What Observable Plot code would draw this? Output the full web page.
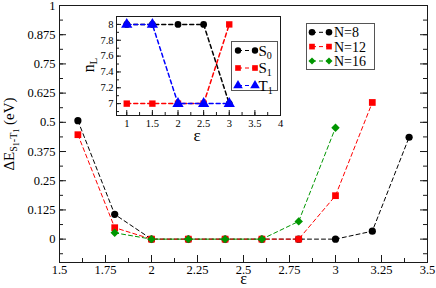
<!DOCTYPE html>
<html><head><meta charset="utf-8">
<script src="https://cdn.jsdelivr.net/npm/d3@7"></script>
<script src="https://cdn.jsdelivr.net/npm/@observablehq/plot@0.6"></script>
<style>
body{margin:0;background:#fff}
#wrap{position:relative;width:436px;height:288px;overflow:hidden}
#wrap svg{position:absolute;left:0;top:0}
</style>
</head><body><div id="wrap"></div>
<script>
// ---- main data ----
const eps8  = [1.6, 1.8, 2.0, 2.2, 2.4, 2.6, 2.8, 3.0, 3.2, 3.4];
const dE8   = [0.507, 0.106, 0, 0, 0, 0, 0, 0, 0.034, 0.436];
const eps12 = [1.6, 1.8, 2.0, 2.2, 2.4, 2.6, 2.8, 3.0, 3.2];
const dE12  = [0.447, 0.049, 0, 0, 0, 0, 0, 0.186, 0.585];
const eps16 = [1.8, 2.0, 2.2, 2.4, 2.6, 2.8, 3.0];
const dE16  = [0.027, 0, 0, 0, 0, 0.076, 0.477];
const seriesNames = ["N=8", "N=12", "N=16"];
// ---- inset data ----
const insetEps = [1, 1.5, 2, 2.5, 3];
const nS0 = [8, 8, 8, 8, 7];
const nS1 = [7, 7, 7, 7, 8];
const nT1 = [8, 8, 7, 7, 7];
const insetNames = ["S", "S", "T"];
const insetSubs = ["0", "1", "1"];
// ---- ticks ----
const xTicks = [1.5, 1.75, 2, 2.25, 2.5, 2.75, 3, 3.25, 3.5];
const yTicks = [0, 0.125, 0.25, 0.375, 0.5, 0.625, 0.75, 0.875, 1];
const insetXTicks = [1, 1.5, 2, 2.5, 3, 3.5, 4];
const insetYTicks = [7, 7.2, 7.4, 7.6, 7.8, 8];

const W = 436, H = 288;
const FONT = "'Liberation Serif', 'Times New Roman', 'DejaVu Serif', serif";
const INK = "#1a1a1a";
const GREEN = "#009600";
const fmt = d => String(d);
const mk = (xs, ys) => xs.map((x, i) => ({x, y: ys[i]}));
const d8 = mk(eps8, dE8), d12 = mk(eps12, dE12), d16 = mk(eps16, dE16);
const xMinor = d3.range(1.5, 3.5001, 0.125);
const yMinor = d3.range(-0.0625, 1.0001, 0.0625);

// main frame: x 59..427, y 5..262
const mL = 59, mR = 9, mT = 5, mB = 26;
const ih = H - mT - mB, iw = W - mL - mR;
const dash = "4,3";

const main = Plot.plot({
  width: W, height: H,
  marginLeft: mL, marginRight: mR, marginTop: mT, marginBottom: mB,
  style: {fontFamily: FONT, fontSize: "12.5px", background: "white", color: "black"},
  x: {domain: [1.5, 3.5]},
  y: {domain: [-0.1, 1]},
  marks: [
    Plot.tickX(xMinor, {x: d => d, insetTop: ih - 4, stroke: INK}),
    Plot.tickX(xTicks, {x: d => d, insetTop: ih - 7, stroke: INK}),
    Plot.tickY(yMinor, {y: d => d, insetRight: iw - 4, stroke: INK}),
    Plot.tickY(yTicks, {y: d => d, insetRight: iw - 7, stroke: INK}),
    Plot.tickY(yMinor, {y: d => d, insetLeft: iw - 4, stroke: INK}),
    Plot.tickY(yTicks, {y: d => d, insetLeft: iw - 7, stroke: INK}),
    Plot.axisX(xTicks, {tickSize: 0, tickPadding: 3, tickFormat: fmt, label: null}),
    Plot.axisY(yTicks, {tickSize: 0, tickPadding: 4, tickFormat: fmt, label: null}),
    Plot.line(d8, {x: "x", y: "y", stroke: "black", strokeDasharray: dash, strokeWidth: 1}),
    Plot.dot(d8, {x: "x", y: "y", fill: "black", r: 3.6, symbol: "circle"}),
    Plot.line(d12, {x: "x", y: "y", stroke: "#ff0000", strokeDasharray: dash, strokeWidth: 1}),
    Plot.dot(d12, {x: "x", y: "y", fill: "#ff0000", r: 3.8, symbol: "square"}),
    Plot.line(d16, {x: "x", y: "y", stroke: GREEN, strokeDasharray: dash, strokeWidth: 1}),
    Plot.dot(d16, {x: "x", y: "y", fill: GREEN, r: 3.8, symbol: "diamond2"}),
    Plot.frame({stroke: INK, strokeWidth: 1})
  ]
});
document.getElementById("wrap").appendChild(main);

const ms = d3.select(main);
const yl = ms.append("text")
  .attr("transform", "translate(13.5,134) rotate(-90)")
  .attr("text-anchor", "middle")
  .style("font-family", FONT).attr("font-size", 15).attr("fill", "black");
yl.append("tspan").text("ΔE");
yl.append("tspan").attr("font-size", 10).attr("dy", 3).text("S");
yl.append("tspan").attr("font-size", 8).attr("dy", 2).text("1");
yl.append("tspan").attr("font-size", 10).attr("dy", -2).text("-T");
yl.append("tspan").attr("font-size", 8).attr("dy", 2).text("1");
yl.append("tspan").attr("font-size", 15).attr("dy", -5).text(" (eV)");
ms.append("text").attr("x", 243.5).attr("y", 284).attr("text-anchor", "middle")
  .style("font-family", FONT).attr("font-size", 16).attr("fill", "black").text("ε");

// main legend
const lg = ms.append("g").attr("text-anchor", "start");
lg.append("rect").attr("x", 306.5).attr("y", 23.5).attr("width", 68).attr("height", 46)
  .attr("fill", "white").attr("stroke", "#555");
const lcol = ["black", "#ff0000", GREEN];
const lsym = [d3.symbolCircle, d3.symbolSquare, d3.symbolDiamond2];
const lrows = [32.3, 46.6, 61];
seriesNames.forEach((nm, i) => {
  const yy = lrows[i];
  lg.append("line").attr("x1", 312).attr("x2", 329).attr("y1", yy).attr("y2", yy)
    .attr("stroke", lcol[i]).attr("stroke-dasharray", "4,3");
  [312, 329].forEach(xx => lg.append("path")
    .attr("d", d3.symbol(lsym[i], i === 0 ? 34 : 32)())
    .attr("transform", `translate(${xx},${yy})`).attr("fill", lcol[i]));
  lg.append("text").attr("x", 334).attr("y", yy + 5).style("font-family", FONT)
    .attr("font-size", 14).attr("fill", "black").text(nm);
});

// ---- inset: frame x 116..280, y 16..115 ----
const iL = 116, iR = W - 280, iT = 16, iB = H - 115;
const iiw = W - iL - iR, iih = H - iT - iB;
const s0 = mk(insetEps, nS0), s1 = mk(insetEps, nS1), t1 = mk(insetEps, nT1);
const ixMinor = d3.range(1, 4.0001, 0.25);
const iyMinor = d3.range(6.9, 8.1001, 0.1);
const inset = Plot.plot({
  width: W, height: H,
  marginLeft: iL, marginRight: iR, marginTop: iT, marginBottom: iB,
  style: {fontFamily: FONT, fontSize: "10.5px", background: "transparent", color: "black"},
  x: {domain: [0.8, 4]},
  y: {domain: [6.85, 8.1]},
  marks: [
    Plot.frame({fill: "white", stroke: INK}),
    Plot.tickX(ixMinor, {x: d => d, insetTop: iih - 3, stroke: INK}),
    Plot.tickX(insetXTicks, {x: d => d, insetTop: iih - 5, stroke: INK}),
    Plot.tickY(iyMinor, {y: d => d, insetRight: iiw - 3, stroke: INK}),
    Plot.tickY(insetYTicks, {y: d => d, insetRight: iiw - 5, stroke: INK}),
    Plot.axisX(insetXTicks, {tickSize: 0, tickPadding: 4, tickFormat: fmt, label: null}),
    Plot.axisY(insetYTicks, {tickSize: 0, tickPadding: 3, tickFormat: fmt, label: null}),
    Plot.line(s0, {x: "x", y: "y", stroke: "black", strokeDasharray: dash}),
    Plot.dot(s0, {x: "x", y: "y", fill: "black", r: 3.4, symbol: "circle"}),
    Plot.line(s1, {x: "x", y: "y", stroke: "#ff0000", strokeDasharray: dash}),
    Plot.dot(s1, {x: "x", y: "y", fill: "#ff0000", r: 3.6, symbol: "square"}),
    Plot.line(t1, {x: "x", y: "y", stroke: "#0000ff", strokeDasharray: dash}),
    Plot.dot(t1, {x: "x", y: "y", fill: "#0000ff", r: 4.2, symbol: "triangle"}),
    Plot.frame({stroke: INK})
  ]
});
inset.style.background = "transparent";
document.getElementById("wrap").appendChild(inset);
const is = d3.select(inset);
const nl = is.append("text").attr("transform", "translate(93.5,65) rotate(-90)")
  .attr("text-anchor", "middle").style("font-family", FONT).attr("font-size", 16).attr("fill", "black");
nl.append("tspan").text("n");
nl.append("tspan").attr("font-size", 11).attr("dy", 3).text("L");
is.append("text").attr("x", 197).attr("y", 141).attr("text-anchor", "middle")
  .style("font-family", FONT).attr("font-size", 17).attr("fill", "black").text("ε");
// inset legend
const il = is.append("g").attr("text-anchor", "start");
il.append("rect").attr("x", 231.5).attr("y", 41.5).attr("width", 46).attr("height", 49)
  .attr("fill", "white").attr("stroke", "#555");
const icol = ["black", "#ff0000", "#0000ff"];
const isym = [d3.symbolCircle, d3.symbolSquare, d3.symbolTriangle];
const irows = [50.5, 68, 85.5];
insetNames.forEach((nm, i) => {
  const yy = irows[i];
  il.append("line").attr("x1", 238).attr("x2", 255).attr("y1", yy).attr("y2", yy)
    .attr("stroke", icol[i]).attr("stroke-dasharray", "4,3");
  [238, 255].forEach(xx => il.append("path")
    .attr("d", d3.symbol(isym[i], i === 2 ? 40 : 32)())
    .attr("transform", `translate(${xx},${yy})`).attr("fill", icol[i]));
  const t = il.append("text").attr("x", 258.5).attr("y", yy + 5).style("font-family", FONT)
    .attr("font-size", 15).attr("fill", "black");
  t.append("tspan").text(nm);
  t.append("tspan").attr("font-size", 10).attr("dy", 3).text(insetSubs[i]);
});
</script>
</body></html>
